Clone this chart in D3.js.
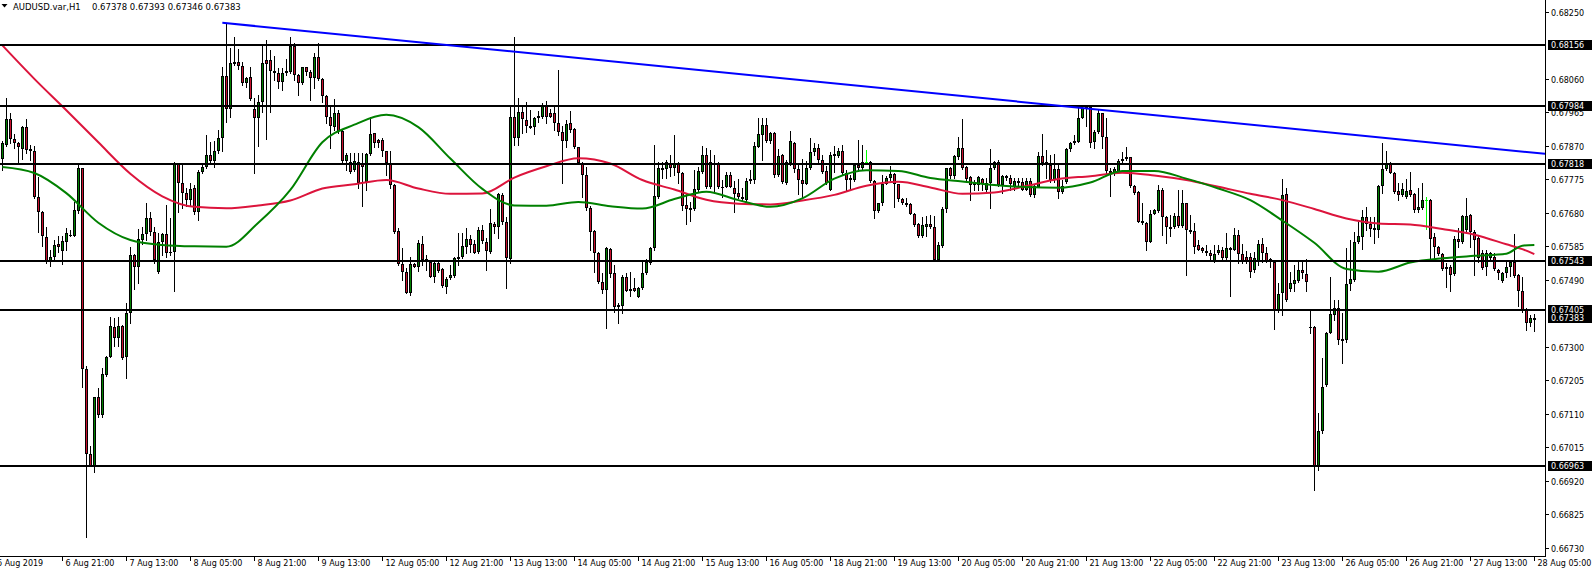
<!DOCTYPE html>
<html><head><meta charset="utf-8">
<script src="https://cdn.jsdelivr.net/npm/d3@7"></script>
<style>
body{margin:0;background:#fff;}
svg{display:block;}
text{font-family:"DejaVu Sans",Verdana,sans-serif;font-size:8px;}
</style>
</head><body>
<svg id="c" width="1592" height="570"></svg>
<script>
const opens=[
0.67832,0.67873,0.67945,0.67889,0.67877,0.67862,0.67923,0.67861,0.67854,0.67724,0.67682,0.67611,0.67541,0.67556,0.67591,0.67573,
0.67596,0.67617,0.67614,0.67686,0.67806,0.67236,0.66995,0.66963,0.67157,0.67107,0.67220,0.67272,0.67357,0.67324,0.67359,0.67272,
0.67395,0.67560,0.67526,0.67603,0.67619,0.67665,0.67625,0.67511,0.67598,0.67619,0.67568,0.67568,0.67818,0.67766,0.67735,0.67717,
0.67750,0.67682,0.67795,0.67811,0.67844,0.67828,0.67854,0.67891,0.68068,0.67974,0.68107,0.68107,0.68097,0.68047,0.68064,0.67974,
0.67948,0.67993,0.68114,0.68114,0.68082,0.68078,0.68052,0.68076,0.68080,0.68153,0.68071,0.68047,0.68093,0.68079,0.68062,0.68121,
0.68059,0.68011,0.67953,0.67923,0.67962,0.67913,0.67827,0.67825,0.67802,0.67825,0.67821,0.67767,0.67846,0.67906,0.67887,0.67887,
0.67854,0.67821,0.67759,0.67629,0.67534,0.67513,0.67454,0.67534,0.67527,0.67592,0.67548,0.67542,0.67499,0.67539,0.67520,0.67471,
0.67494,0.67501,0.67556,0.67554,0.67584,0.67606,0.67592,0.67568,0.67631,0.67598,0.67570,0.67648,0.67639,0.67731,0.67655,0.67549,
0.67953,0.67893,0.67965,0.67943,0.67926,0.67923,0.67951,0.67953,0.67983,0.67962,0.67962,0.67936,0.67908,0.67885,0.67934,0.67918,
0.67866,0.67821,0.67787,0.67693,0.67629,0.67567,0.67485,0.67461,0.67577,0.67510,0.67412,0.67416,0.67499,0.67463,0.67466,0.67442,
0.67466,0.67509,0.67537,0.67581,0.67726,0.67806,0.67803,0.67822,0.67806,0.67819,0.67792,0.67702,0.67693,0.67691,0.67745,0.67797,
0.67844,0.67752,0.67821,0.67821,0.67754,0.67754,0.67787,0.67750,0.67737,0.67726,0.67717,0.67769,0.67773,0.67868,0.67902,0.67929,
0.67884,0.67907,0.67787,0.67844,0.67765,0.67820,0.67879,0.67803,0.67773,0.67763,0.67806,0.67853,0.67863,0.67831,0.67798,0.67746,
0.67840,0.67842,0.67855,0.67794,0.67778,0.67773,0.67816,0.67808,0.67825,0.67825,0.67770,0.67686,0.67707,0.67763,0.67778,0.67790,
0.67761,0.67718,0.67707,0.67704,0.67678,0.67647,0.67615,0.67640,0.67647,0.67641,0.67546,0.67587,0.67691,0.67806,0.67784,0.67839,
0.67865,0.67809,0.67781,0.67764,0.67759,0.67775,0.67745,0.67764,0.67806,0.67825,0.67759,0.67784,0.67780,0.67754,0.67765,0.67768,
0.67746,0.67771,0.67730,0.67754,0.67841,0.67820,0.67815,0.67773,0.67803,0.67740,0.67768,0.67860,0.67877,0.67881,0.67950,0.67979,
0.67979,0.67881,0.67910,0.67962,0.67896,0.67799,0.67790,0.67794,0.67834,0.67839,0.67837,0.67757,0.67738,0.67657,0.67652,0.67598,
0.67678,0.67686,0.67745,0.67669,0.67641,0.67639,0.67671,0.67642,0.67707,0.67631,0.67628,0.67588,0.67579,0.67571,0.67567,0.67544,
0.67565,0.67576,0.67551,0.67579,0.67576,0.67617,0.67562,0.67555,0.67555,0.67518,0.67541,0.67591,0.67565,0.67548,0.67542,0.67405,
0.67452,0.67734,0.67464,0.67478,0.67488,0.67518,0.67507,0.67356,0.67357,0.66962,0.67060,0.67192,0.67340,0.67390,0.67411,0.67321,
0.67318,0.67478,0.67490,0.67598,0.67611,0.67667,0.67648,0.67638,0.67630,0.67756,0.67803,0.67819,0.67794,0.67742,0.67731,0.67724,
0.67745,0.67733,0.67688,0.67693,0.67715,0.67716,0.67611,0.67582,0.67563,0.67526,0.67527,0.67507,0.67605,0.67598,0.67630,0.67673,
0.67627,0.67608,0.67565,0.67526,0.67553,0.67556,0.67518,0.67488,0.67509,0.67526,0.67542,0.67504,0.67458,0.67406,0.67369,0.67378];

const highs=[
0.67885,0.68005,0.67962,0.67904,0.67882,0.67926,0.67946,0.67872,0.67870,0.67781,0.67684,0.67639,0.67575,0.67603,0.67613,0.67614,
0.67636,0.67631,0.67712,0.67822,0.67808,0.67246,0.67019,0.67157,0.67182,0.67239,0.67274,0.67386,0.67381,0.67386,0.67362,0.67424,
0.67584,0.67562,0.67633,0.67641,0.67709,0.67681,0.67641,0.67622,0.67622,0.67702,0.67666,0.67825,0.67821,0.67816,0.67750,0.67764,
0.67759,0.67802,0.67818,0.67901,0.67882,0.67884,0.67915,0.68095,0.68216,0.68147,0.68180,0.68144,0.68109,0.68066,0.68095,0.68005,
0.68014,0.68153,0.68170,0.68142,0.68125,0.68090,0.68090,0.68115,0.68178,0.68161,0.68073,0.68095,0.68095,0.68085,0.68132,0.68161,
0.68061,0.68013,0.67979,0.68002,0.67972,0.67915,0.67851,0.67849,0.67849,0.67849,0.67849,0.67851,0.67953,0.67907,0.67889,0.67891,
0.67856,0.67854,0.67761,0.67636,0.67579,0.67523,0.67556,0.67537,0.67603,0.67613,0.67561,0.67544,0.67542,0.67541,0.67523,0.67499,
0.67532,0.67554,0.67622,0.67622,0.67636,0.67617,0.67603,0.67639,0.67645,0.67608,0.67691,0.67655,0.67735,0.67735,0.67669,0.67983,
0.68180,0.68005,0.67981,0.67993,0.67972,0.67953,0.67970,0.67991,0.67997,0.67974,0.67979,0.68085,0.67925,0.67943,0.67969,0.67920,
0.67868,0.67823,0.67811,0.67698,0.67631,0.67569,0.67509,0.67584,0.67579,0.67532,0.67424,0.67504,0.67509,0.67513,0.67496,0.67471,
0.67546,0.67548,0.67584,0.67872,0.67825,0.67825,0.67830,0.67844,0.67901,0.67825,0.67797,0.67735,0.67712,0.67802,0.67811,0.67870,
0.67863,0.67858,0.67844,0.67825,0.67773,0.67797,0.67797,0.67769,0.67775,0.67750,0.67778,0.67802,0.67882,0.67948,0.67948,0.67948,
0.67910,0.67910,0.67860,0.67847,0.67831,0.67912,0.67881,0.67815,0.67832,0.67827,0.67891,0.67877,0.67874,0.67844,0.67813,0.67853,
0.67869,0.67863,0.67872,0.67801,0.67787,0.67820,0.67886,0.67872,0.67858,0.67827,0.67773,0.67709,0.67787,0.67784,0.67813,0.67792,
0.67763,0.67721,0.67721,0.67707,0.67680,0.67650,0.67669,0.67671,0.67674,0.67671,0.67598,0.67697,0.67808,0.67811,0.67844,0.67896,
0.67945,0.67813,0.67784,0.67773,0.67784,0.67780,0.67778,0.67860,0.67828,0.67830,0.67787,0.67787,0.67787,0.67778,0.67778,0.67778,
0.67778,0.67778,0.67759,0.67853,0.67905,0.67858,0.67844,0.67848,0.67815,0.67773,0.67863,0.67881,0.67900,0.67983,0.67985,0.67985,
0.67985,0.67915,0.67971,0.67964,0.67948,0.67806,0.67811,0.67832,0.67853,0.67867,0.67839,0.67759,0.67742,0.67707,0.67655,0.67688,
0.67692,0.67759,0.67751,0.67671,0.67674,0.67680,0.67744,0.67744,0.67709,0.67675,0.67650,0.67603,0.67584,0.67588,0.67574,0.67588,
0.67588,0.67584,0.67622,0.67584,0.67636,0.67631,0.67593,0.67572,0.67565,0.67570,0.67603,0.67608,0.67582,0.67551,0.67546,0.67480,
0.67775,0.67750,0.67513,0.67532,0.67543,0.67542,0.67548,0.67405,0.67359,0.67111,0.67269,0.67343,0.67499,0.67433,0.67433,0.67397,
0.67579,0.67603,0.67627,0.67655,0.67688,0.67696,0.67667,0.67667,0.67759,0.67877,0.67856,0.67825,0.67797,0.67764,0.67764,0.67775,
0.67797,0.67735,0.67750,0.67766,0.67726,0.67718,0.67622,0.67586,0.67565,0.67537,0.67532,0.67613,0.67636,0.67674,0.67721,0.67677,
0.67631,0.67617,0.67575,0.67575,0.67570,0.67567,0.67520,0.67513,0.67542,0.67546,0.67620,0.67506,0.67499,0.67409,0.67390,0.67393];

const lows=[
0.67802,0.67870,0.67877,0.67863,0.67821,0.67832,0.67851,0.67830,0.67722,0.67626,0.67586,0.67537,0.67529,0.67546,0.67570,0.67535,
0.67575,0.67613,0.67613,0.67679,0.67187,0.66762,0.66962,0.66946,0.67102,0.67102,0.67217,0.67272,0.67301,0.67301,0.67266,0.67211,
0.67367,0.67463,0.67480,0.67592,0.67603,0.67617,0.67537,0.67509,0.67561,0.67556,0.67561,0.67457,0.67681,0.67693,0.67700,0.67698,
0.67677,0.67660,0.67792,0.67806,0.67821,0.67811,0.67851,0.67856,0.67939,0.67953,0.68099,0.68087,0.68042,0.68038,0.68000,0.67792,
0.67870,0.67967,0.67889,0.67967,0.68057,0.68033,0.68027,0.68071,0.68076,0.68057,0.68014,0.68045,0.68071,0.68000,0.68033,0.68057,
0.67993,0.67934,0.67863,0.67915,0.67906,0.67825,0.67802,0.67792,0.67800,0.67750,0.67698,0.67745,0.67844,0.67868,0.67868,0.67841,
0.67787,0.67750,0.67624,0.67532,0.67490,0.67452,0.67447,0.67526,0.67516,0.67532,0.67518,0.67497,0.67485,0.67511,0.67471,0.67454,
0.67492,0.67499,0.67532,0.67551,0.67565,0.67570,0.67565,0.67565,0.67595,0.67518,0.67565,0.67622,0.67608,0.67649,0.67466,0.67537,
0.67872,0.67872,0.67906,0.67910,0.67920,0.67904,0.67939,0.67950,0.67934,0.67951,0.67915,0.67901,0.67764,0.67868,0.67910,0.67863,
0.67819,0.67726,0.67688,0.67575,0.67513,0.67480,0.67454,0.67353,0.67499,0.67400,0.67369,0.67397,0.67457,0.67444,0.67457,0.67440,
0.67463,0.67507,0.67535,0.67575,0.67721,0.67778,0.67778,0.67785,0.67787,0.67764,0.67688,0.67648,0.67658,0.67688,0.67740,0.67792,
0.67750,0.67750,0.67735,0.67750,0.67726,0.67752,0.67752,0.67681,0.67721,0.67717,0.67714,0.67766,0.67764,0.67866,0.67829,0.67881,
0.67877,0.67782,0.67784,0.67765,0.67763,0.67815,0.67797,0.67733,0.67724,0.67761,0.67803,0.67844,0.67825,0.67794,0.67763,0.67745,
0.67796,0.67839,0.67790,0.67745,0.67746,0.67771,0.67801,0.67804,0.67822,0.67768,0.67666,0.67683,0.67702,0.67761,0.67773,0.67697,
0.67714,0.67705,0.67699,0.67676,0.67643,0.67612,0.67612,0.67615,0.67636,0.67544,0.67544,0.67584,0.67683,0.67778,0.67780,0.67834,
0.67804,0.67771,0.67716,0.67746,0.67745,0.67746,0.67743,0.67695,0.67803,0.67756,0.67735,0.67773,0.67744,0.67746,0.67759,0.67744,
0.67744,0.67727,0.67725,0.67752,0.67815,0.67780,0.67768,0.67768,0.67721,0.67735,0.67765,0.67856,0.67874,0.67880,0.67948,0.67926,
0.67867,0.67865,0.67907,0.67865,0.67794,0.67727,0.67787,0.67792,0.67825,0.67830,0.67754,0.67733,0.67653,0.67648,0.67576,0.67596,
0.67676,0.67683,0.67617,0.67595,0.67614,0.67636,0.67640,0.67640,0.67503,0.67623,0.67565,0.67574,0.67570,0.67560,0.67544,0.67542,
0.67563,0.67544,0.67546,0.67444,0.67574,0.67537,0.67538,0.67537,0.67499,0.67513,0.67532,0.67542,0.67542,0.67527,0.67351,0.67400,
0.67390,0.67431,0.67457,0.67457,0.67485,0.67494,0.67457,0.67338,0.66894,0.66951,0.67057,0.67189,0.67338,0.67376,0.67308,0.67255,
0.67315,0.67461,0.67488,0.67595,0.67577,0.67631,0.67613,0.67594,0.67611,0.67735,0.67802,0.67792,0.67737,0.67717,0.67728,0.67721,
0.67728,0.67681,0.67683,0.67690,0.67633,0.67551,0.67551,0.67560,0.67518,0.67471,0.67459,0.67504,0.67584,0.67594,0.67627,0.67582,
0.67504,0.67542,0.67520,0.67504,0.67546,0.67518,0.67491,0.67485,0.67499,0.67501,0.67499,0.67416,0.67400,0.67348,0.67359,0.67346];

const closes=[
0.67877,0.67945,0.67889,0.67877,0.67866,0.67923,0.67858,0.67854,0.67724,0.67681,0.67613,0.67541,0.67556,0.67588,0.67582,0.67600,
0.67622,0.67618,0.67687,0.67806,0.67236,0.66997,0.66963,0.67157,0.67107,0.67222,0.67272,0.67359,0.67324,0.67359,0.67269,0.67395,
0.67560,0.67526,0.67605,0.67619,0.67665,0.67627,0.67545,0.67596,0.67619,0.67567,0.67569,0.67821,0.67766,0.67735,0.67717,0.67747,
0.67682,0.67797,0.67811,0.67844,0.67828,0.67854,0.67891,0.68068,0.67974,0.68104,0.68102,0.68097,0.68047,0.68062,0.68002,0.67948,
0.67994,0.68104,0.68101,0.68082,0.68076,0.68052,0.68078,0.68083,0.68153,0.68071,0.68047,0.68093,0.68079,0.68062,0.68121,0.68059,
0.68011,0.67953,0.67925,0.67962,0.67913,0.67828,0.67844,0.67795,0.67827,0.67766,0.67811,0.67846,0.67903,0.67877,0.67877,0.67854,
0.67821,0.67759,0.67627,0.67534,0.67513,0.67454,0.67534,0.67527,0.67594,0.67546,0.67543,0.67499,0.67539,0.67516,0.67473,0.67492,
0.67504,0.67551,0.67548,0.67586,0.67606,0.67589,0.67567,0.67631,0.67600,0.67573,0.67650,0.67639,0.67733,0.67655,0.67553,0.67953,
0.67891,0.67965,0.67945,0.67925,0.67922,0.67948,0.67955,0.67983,0.67953,0.67953,0.67936,0.67908,0.67885,0.67932,0.67915,0.67866,
0.67821,0.67786,0.67693,0.67627,0.67567,0.67485,0.67461,0.67579,0.67507,0.67414,0.67419,0.67499,0.67459,0.67457,0.67459,0.67466,
0.67509,0.67542,0.67581,0.67728,0.67806,0.67803,0.67825,0.67806,0.67819,0.67792,0.67700,0.67690,0.67688,0.67747,0.67799,0.67844,
0.67754,0.67825,0.67819,0.67752,0.67752,0.67787,0.67754,0.67734,0.67726,0.67718,0.67769,0.67777,0.67870,0.67903,0.67929,0.67884,
0.67907,0.67787,0.67841,0.67768,0.67825,0.67883,0.67803,0.67773,0.67761,0.67806,0.67853,0.67863,0.67830,0.67796,0.67765,0.67844,
0.67846,0.67855,0.67794,0.67773,0.67773,0.67816,0.67808,0.67825,0.67825,0.67770,0.67686,0.67707,0.67763,0.67780,0.67790,0.67761,
0.67718,0.67707,0.67702,0.67678,0.67645,0.67615,0.67645,0.67648,0.67639,0.67546,0.67589,0.67691,0.67806,0.67784,0.67841,0.67865,
0.67808,0.67775,0.67759,0.67762,0.67781,0.67761,0.67764,0.67806,0.67825,0.67759,0.67784,0.67778,0.67761,0.67771,0.67771,0.67746,
0.67771,0.67730,0.67756,0.67841,0.67820,0.67825,0.67773,0.67803,0.67740,0.67756,0.67860,0.67877,0.67884,0.67950,0.67976,0.67976,
0.67879,0.67910,0.67964,0.67896,0.67799,0.67794,0.67803,0.67828,0.67830,0.67834,0.67757,0.67735,0.67655,0.67650,0.67598,0.67676,
0.67688,0.67745,0.67669,0.67639,0.67638,0.67671,0.67642,0.67707,0.67631,0.67626,0.67584,0.67576,0.67572,0.67565,0.67558,0.67562,
0.67576,0.67551,0.67579,0.67576,0.67617,0.67562,0.67541,0.67541,0.67513,0.67551,0.67591,0.67567,0.67544,0.67544,0.67405,0.67450,
0.67731,0.67433,0.67480,0.67490,0.67518,0.67509,0.67485,0.67355,0.66962,0.67060,0.67187,0.67340,0.67392,0.67411,0.67318,0.67319,
0.67478,0.67492,0.67598,0.67613,0.67667,0.67648,0.67633,0.67630,0.67756,0.67803,0.67819,0.67794,0.67740,0.67731,0.67747,0.67742,
0.67731,0.67688,0.67696,0.67715,0.67715,0.67605,0.67582,0.67563,0.67520,0.67520,0.67504,0.67605,0.67598,0.67671,0.67671,0.67627,
0.67603,0.67551,0.67523,0.67567,0.67565,0.67520,0.67509,0.67510,0.67526,0.67542,0.67501,0.67457,0.67405,0.67367,0.67381,0.67383];

// moving averages, read at every 8th bar (plus a few extra reads at the end)
const maBars=[0,8,16,24,32,40,48,56,64,72,80,88,96,104,112,120,128,136,144,152,160,168,176,184,192,200,208,216,224,232,240,248,256,264,272,280,288,296,304,312,320,328,336,344,352,360,368,376,380,383];
const maRed=[0.68155,0.68060,0.67971,0.67880,0.67791,0.67727,0.67697,0.67693,0.67701,0.67715,0.67749,0.67761,0.67773,0.67749,0.67734,0.67735,0.67780,0.67812,0.67835,0.67820,0.67773,0.67746,0.67717,0.67706,0.67704,0.67715,0.67731,0.67757,0.67768,0.67752,0.67734,0.67738,0.67756,0.67776,0.67784,0.67794,0.67786,0.67773,0.67754,0.67734,0.67716,0.67691,0.67664,0.67650,0.67647,0.67634,0.67618,0.67591,0.67577,0.67563];
const maGreen=[0.67810,0.67793,0.67736,0.67652,0.67603,0.67589,0.67585,0.67584,0.67652,0.67745,0.67880,0.67930,0.67958,0.67923,0.67834,0.67748,0.67701,0.67700,0.67711,0.67699,0.67692,0.67719,0.67740,0.67716,0.67697,0.67721,0.67777,0.67801,0.67799,0.67779,0.67769,0.67759,0.67753,0.67751,0.67766,0.67799,0.67799,0.67777,0.67749,0.67716,0.67658,0.67595,0.67521,0.67513,0.67539,0.67551,0.67558,0.67564,0.67587,0.67589];

const levels=[0.68156,0.67984,0.67818,0.67543,0.67405,0.66963];
const trendBars=[55,386];
const trendPrices=[0.68219,0.67847];
const lastPrice=0.67383;
const yTicks=[0.68250,0.68060,0.67965,0.67870,0.67775,0.67680,0.67585,0.67490,0.67300,0.67205,0.67110,0.67015,0.66920,0.66825,0.66730];
const xTickBars=[15,31,47,63,79,95,111,127,143,159,175,191,207,223,239,255,271,287,303,319,335,351,367,383];
const xTickLabels=["6 Aug 21:00","7 Aug 13:00","8 Aug 05:00","8 Aug 21:00","9 Aug 13:00","12 Aug 05:00","12 Aug 21:00","13 Aug 13:00","14 Aug 05:00","14 Aug 21:00","15 Aug 13:00","16 Aug 05:00","18 Aug 21:00","19 Aug 13:00","20 Aug 05:00","20 Aug 21:00","21 Aug 13:00","22 Aug 05:00","22 Aug 21:00","23 Aug 13:00","26 Aug 05:00","26 Aug 21:00","27 Aug 13:00","28 Aug 05:00"];
const firstLabel="6 Aug 2019";
const symbolText="AUDUSD.var,H1";
const ohlcText="0.67378 0.67393 0.67346 0.67383";

const plotR=1545, plotB=556;
const x=d3.scaleLinear().domain([0,383]).range([2.33,1534.33]);
const y=d3.scaleLinear().domain([0.68156,0.66963]).range([45,465.66]);
const fmt=d3.format(".5f");
const svg=d3.select("#c");
svg.append("rect").attr("width",1592).attr("height",570).attr("fill","#fff");
svg.append("defs").append("clipPath").attr("id","pc").append("rect").attr("x",0).attr("y",0).attr("width",plotR).attr("height",plotB);
const plot=svg.append("g").attr("clip-path","url(#pc)").attr("shape-rendering","crispEdges");

const bull="#008000", bear="#c8102e";
const cg=plot.append("g");
opens.forEach((o,i)=>{
  const c=closes[i], h=highs[i], l=lows[i];
  const cx=Math.floor(x(i))+0.5;
  const doji=(o===c);
  cg.append("line").attr("x1",cx).attr("x2",cx)
    .attr("y1",Math.round(y(h))).attr("y2",Math.round(y(l))+1)
    .attr("stroke",doji?"#00ff00":"#000").attr("stroke-width",1);
  const top=Math.round(y(Math.max(o,c))), bot=Math.round(y(Math.min(o,c)));
  if(doji){
    cg.append("rect").attr("x",cx-1.5).attr("y",top).attr("width",3).attr("height",1).attr("fill","#00ff00");
  } else if(bot-top>=2){
    cg.append("rect").attr("x",cx-1).attr("y",top+0.5).attr("width",2).attr("height",bot-top-1)
      .attr("fill",c>o?bull:bear).attr("stroke","#000").attr("stroke-width",1);
  } else {
    cg.append("rect").attr("x",cx-1.5).attr("y",top).attr("width",3).attr("height",Math.max(1,bot-top+1)).attr("fill","#000");
  }
});

const maLine=d3.line().x(d=>x(d[0])).y(d=>y(d[1])).curve(d3.curveMonotoneX);
const lg=svg.append("g").attr("clip-path","url(#pc)");
lg.append("path").attr("d",maLine(maBars.map((b,i)=>[b,maRed[i]]))).attr("fill","none").attr("stroke","#dc143c").attr("stroke-width",2);
lg.append("path").attr("d",maLine(maBars.map((b,i)=>[b,maGreen[i]]))).attr("fill","none").attr("stroke","#008000").attr("stroke-width",2);

levels.forEach(p=>{
  const yy=Math.round(y(p));
  lg.append("line").attr("x1",0).attr("x2",plotR).attr("y1",yy).attr("y2",yy).attr("stroke","#000").attr("stroke-width",2).attr("shape-rendering","crispEdges");
});
lg.append("line").attr("x1",x(trendBars[0])).attr("y1",y(trendPrices[0])).attr("x2",x(trendBars[1])).attr("y2",y(trendPrices[1]))
  .attr("stroke","#0000ff").attr("stroke-width",2);

// frame
const fr=svg.append("g").attr("shape-rendering","crispEdges");
fr.append("line").attr("x1",plotR+0.5).attr("x2",plotR+0.5).attr("y1",0).attr("y2",plotB+1).attr("stroke","#000");
fr.append("line").attr("x1",0).attr("x2",plotR+1).attr("y1",plotB+0.5).attr("y2",plotB+0.5).attr("stroke","#000");

// y axis (labels hidden by the level boxes are not drawn)
yTicks.forEach(t=>{
  const yy=Math.round(y(t))+0.5;
  fr.append("line").attr("x1",plotR).attr("x2",plotR+4).attr("y1",yy).attr("y2",yy).attr("stroke","#000");
  svg.append("text").attr("x",plotR+6).attr("y",yy+3).attr("fill","#000").text(fmt(t));
});
levels.concat([lastPrice]).forEach(p=>{
  const yy=Math.round(y(p));
  fr.append("rect").attr("x",plotR+3).attr("y",yy-5).attr("width",1592-plotR-3).attr("height",10).attr("fill","#000");
  svg.append("text").attr("x",plotR+6).attr("y",yy+3).attr("fill","#fff").text(fmt(p));
});

// x axis
svg.append("text").attr("x",-3).attr("y",plotB+9.5).attr("fill","#000").text(firstLabel);
xTickBars.forEach((b,i)=>{
  const xx=Math.floor(x(b))+0.5;
  fr.append("line").attr("x1",xx).attr("x2",xx).attr("y1",plotB).attr("y2",plotB+5).attr("stroke","#000");
  svg.append("text").attr("x",xx+3).attr("y",plotB+9.5).attr("fill","#000").text(xTickLabels[i]);
});

// title
svg.append("path").attr("d","M1.5,4 L7.5,4 L4.5,7.5 Z").attr("fill","#000");
svg.append("text").attr("x",13).attr("y",9.5).attr("fill","#000").style("font-size","8.5px").text(symbolText);
svg.append("text").attr("x",92).attr("y",9.5).attr("fill","#000").style("font-size","8.5px").text(ohlcText);
</script>
</body></html>
